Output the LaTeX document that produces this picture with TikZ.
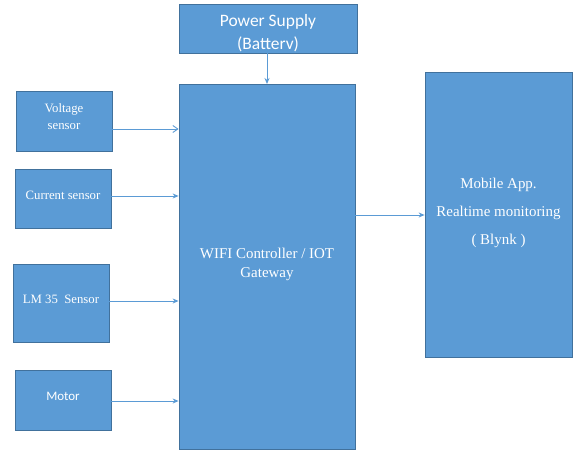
\documentclass[tikz,border=0pt]{standalone}
\usepackage{fontspec}
\setmainfont{Liberation Serif}
\newfontfamily\calib{Carlito}
\usetikzlibrary{arrows.meta}
\definecolor{boxfill}{HTML}{5B9BD5}
\definecolor{boxline}{HTML}{41719C}
\definecolor{wire}{HTML}{5B9BD5}
\tikzset{
  block/.style={draw=boxline, line width=0.8bp, fill=boxfill, text=white, align=center, inner sep=0pt},
  label/.style={text=white, align=center, inner sep=0pt},
  link/.style={draw=wire, line width=0.9bp, -{Stealth[length=6bp,width=5bp]}},
  openlink/.style={draw=wire, line width=0.9bp, -{Straight Barb[length=5bp,width=7bp]}}
}
\begin{document}
\begin{tikzpicture}[x=1bp,y=-1bp]
\useasboundingbox[fill=white] (0,0) rectangle (573,450);
% blocks
\node[block, minimum width=178bp, minimum height=49bp] (pwr) at (268,28.5) {};
\node[label, font=\calib\fontsize{17.5}{23}\selectfont] (pwrtext) at (268,33) {Power Supply\\(Batterv)};
\node[block, minimum width=176bp, minimum height=365bp] (gw) at (267,266.5) {};
\node[label, font=\fontsize{15}{19}\selectfont] (gwtext) at (267,264) {WIFI Controller / IOT\\Gateway};
\node[block, minimum width=96bp, minimum height=60bp] (volt) at (64,121) {};
\node[label, font=\fontsize{12.8}{17}\selectfont] (volttext) at (64,117) {Voltage\\sensor};
\node[block, minimum width=96bp, minimum height=59bp] (curr) at (63,198.5) {};
\node[label, font=\fontsize{12.8}{15}\selectfont] (currtext) at (63,195) {Current sensor};
\node[block, minimum width=96bp, minimum height=78bp] (lm) at (61,303) {};
\node[label, font=\fontsize{12.8}{15}\selectfont] (lmtext) at (61,299) {LM 35~~Sensor};
\node[block, minimum width=96bp, minimum height=60bp] (mot) at (63,400) {};
\node[label, font=\calib\fontsize{13}{15}\selectfont] (mottext) at (63,396) {Motor};
\node[block, minimum width=147bp, minimum height=285bp] (app) at (498.5,214.5) {};
\node[label, font=\fontsize{15}{19}\selectfont] (apptext) at (498.5,213) {Mobile App.\\[9bp]Realtime monitoring\\[9bp]( Blynk )};
% connectors
\coordinate (pin) at (267,84);
\draw[link] (pwr.south -| pin) -- (pin);
\draw[openlink] (112,129) -- (gw.west |- 0,129);
\draw[link] (curr.east |- 0,196) -- (gw.west |- 0,196);
\draw[link] (lm.east |- 0,301) -- (gw.west |- 0,301);
\draw[link] (mot.east |- 0,401) -- (gw.west |- 0,401);
\draw[link] (gw.east |- 0,215) -- (app.west |- 0,215);
\end{tikzpicture}
\end{document}
